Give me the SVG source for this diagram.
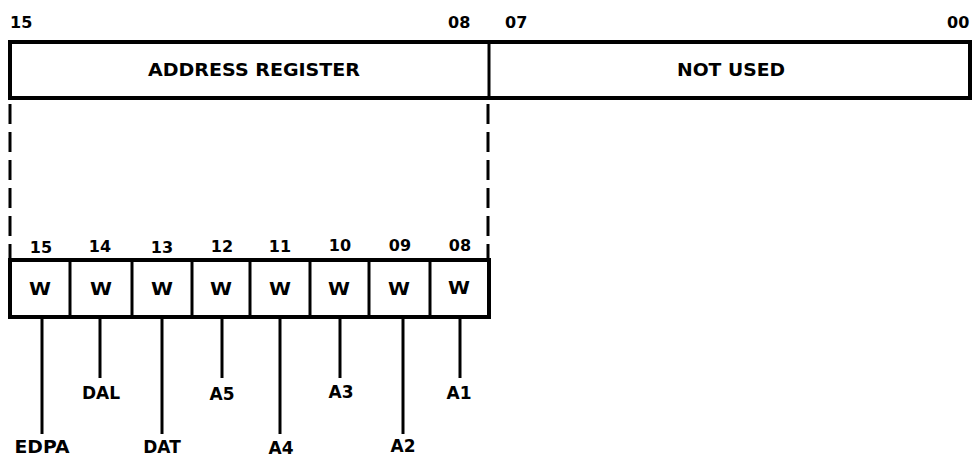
<svg xmlns="http://www.w3.org/2000/svg" width="978" height="458" viewBox="0 0 978 458">
<style>
text{font-family:"DejaVu Sans","Liberation Sans",sans-serif;font-weight:bold;fill:#000}
.n{font-size:16px}
.t{font-size:17px;text-anchor:middle}
.box{fill:#fff;stroke:#000;stroke-width:4}
.div{stroke:#000;stroke-width:3}
.dash{stroke:#000;stroke-width:3;stroke-dasharray:20 8;fill:none}
.ln{stroke:#000;stroke-width:3}
</style>
<rect width="978" height="458" fill="#fff"/>
<g id="top-register">
<text class="n" x="10" y="28">15</text>
<text class="n" x="448" y="28">08</text>
<text class="n" x="505" y="28">07</text>
<text class="n" x="947" y="28">00</text>
<rect class="box" x="10" y="42" width="960" height="56"/>
<line class="div" x1="489" y1="42" x2="489" y2="98"/>
<text class="t" x="254" y="76" textLength="212" lengthAdjust="spacingAndGlyphs">ADDRESS REGISTER</text>
<text class="t" x="731" y="76" textLength="108" lengthAdjust="spacingAndGlyphs">NOT USED</text>
</g>
<g id="expansion">
<line class="dash" x1="10" y1="104" x2="10" y2="258"/>
<line class="dash" x1="488" y1="104" x2="488" y2="258"/>
</g>
<g id="bit-register">
<text class="n" x="41" y="253" text-anchor="middle">15</text>
<text class="n" x="100" y="252" text-anchor="middle">14</text>
<text class="n" x="162" y="253" text-anchor="middle">13</text>
<text class="n" x="222" y="252" text-anchor="middle">12</text>
<text class="n" x="280" y="252" text-anchor="middle">11</text>
<text class="n" x="340" y="251" text-anchor="middle">10</text>
<text class="n" x="400" y="251" text-anchor="middle">09</text>
<text class="n" x="460" y="251" text-anchor="middle">08</text>
<rect class="box" x="10" y="260" width="479" height="57"/>
<line class="div" x1="70" y1="260" x2="70" y2="317"/>
<line class="div" x1="132" y1="260" x2="132" y2="317"/>
<line class="div" x1="192" y1="260" x2="192" y2="317"/>
<line class="div" x1="250" y1="260" x2="250" y2="317"/>
<line class="div" x1="310" y1="260" x2="310" y2="317"/>
<line class="div" x1="369" y1="260" x2="369" y2="317"/>
<line class="div" x1="430" y1="260" x2="430" y2="317"/>
<text class="t" x="40" y="295" textLength="22" lengthAdjust="spacingAndGlyphs">W</text>
<text class="t" x="101" y="295" textLength="22" lengthAdjust="spacingAndGlyphs">W</text>
<text class="t" x="162" y="295" textLength="22" lengthAdjust="spacingAndGlyphs">W</text>
<text class="t" x="221" y="295" textLength="22" lengthAdjust="spacingAndGlyphs">W</text>
<text class="t" x="280" y="295" textLength="22" lengthAdjust="spacingAndGlyphs">W</text>
<text class="t" x="339" y="295" textLength="22" lengthAdjust="spacingAndGlyphs">W</text>
<text class="t" x="399" y="295" textLength="22" lengthAdjust="spacingAndGlyphs">W</text>
<text class="t" x="459" y="294" textLength="22" lengthAdjust="spacingAndGlyphs">W</text>
</g>
<g id="connectors">
<line class="ln" x1="42" y1="318" x2="42" y2="434"/>
<line class="ln" x1="100" y1="318" x2="100" y2="378"/>
<line class="ln" x1="162" y1="318" x2="162" y2="434"/>
<line class="ln" x1="222" y1="318" x2="222" y2="378"/>
<line class="ln" x1="280" y1="318" x2="280" y2="434"/>
<line class="ln" x1="340" y1="318" x2="340" y2="378"/>
<line class="ln" x1="403" y1="318" x2="403" y2="434"/>
<line class="ln" x1="460" y1="318" x2="460" y2="378"/>
</g>
<g id="labels">
<text class="t" x="101" y="399">DAL</text>
<text class="t" x="222" y="400">A5</text>
<text class="t" x="341" y="398">A3</text>
<text class="t" x="459" y="399">A1</text>
<text class="t" x="42" y="453" textLength="55" lengthAdjust="spacingAndGlyphs">EDPA</text>
<text class="t" x="162" y="453">DAT</text>
<text class="t" x="281" y="454">A4</text>
<text class="t" x="403" y="452">A2</text>
</g>
</svg>
